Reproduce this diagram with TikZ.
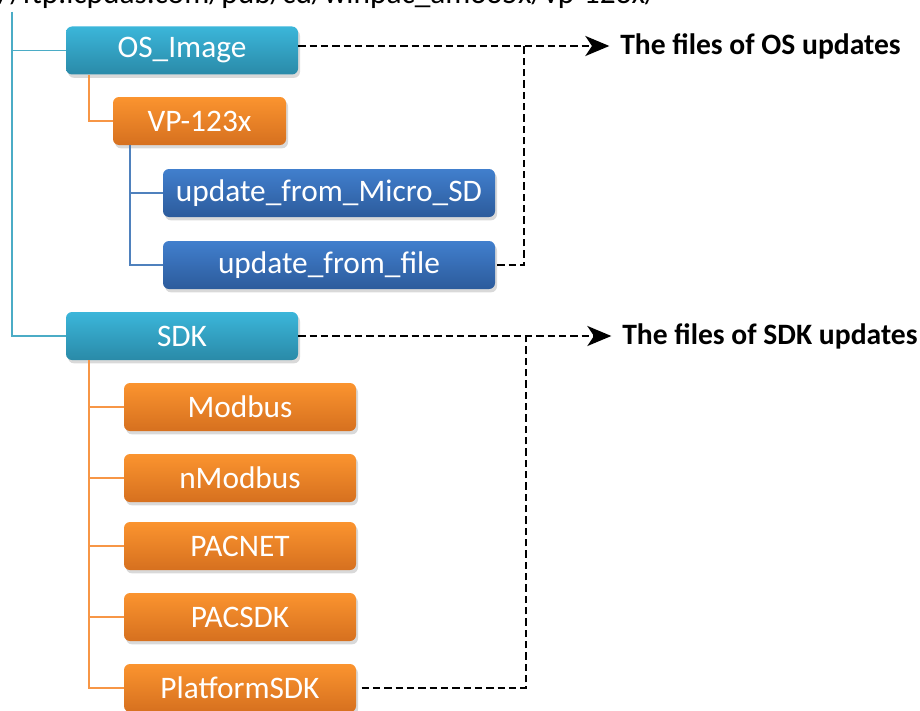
\documentclass[tikz,border=0pt]{standalone}
\usepackage{fontspec}
\setmainfont{Carlito}
\usetikzlibrary{arrows.meta,shadows,calc}
\definecolor{tealtop}{HTML}{3BB6DA}
\definecolor{tealbot}{HTML}{2A8AA8}
\definecolor{orangetop}{HTML}{FB942F}
\definecolor{orangebot}{HTML}{D6701F}
\definecolor{bluetop}{HTML}{417FCD}
\definecolor{bluebot}{HTML}{2C5B9C}
\definecolor{tealline}{HTML}{4BACC6}
\definecolor{orangeline}{HTML}{F79646}
\definecolor{blueline}{HTML}{4F81BD}

\begin{document}
\begin{tikzpicture}[x=0.75pt,y=-0.75pt,>={Stealth[length=18pt,width=15pt,inset=5pt]},
  box/.style={rounded corners=4.5pt,minimum height=36pt,inner sep=0pt,text=white,
    font=\fontsize{23.5}{26}\selectfont,
    drop shadow={shadow xshift=1.5pt,shadow yshift=-2.5pt,opacity=0.3}},
  tealbox/.style={box,top color=tealtop,bottom color=tealbot,minimum width=174pt},
  orangebox/.style={box,top color=orangetop,bottom color=orangebot,minimum width=174pt},
  bluebox/.style={box,top color=bluetop,bottom color=bluebot,minimum width=249pt},
  branch/.style={line width=1.3pt},
  dashline/.style={dash pattern=on 5.5pt off 3pt,line width=1.9pt},
  note/.style={anchor=west,inner sep=0pt,font=\bfseries\fontsize{22.2}{25}\selectfont}]
  \useasboundingbox (0,0) rectangle (920,710);
  % path on the server, cut by the top edge
  \node[anchor=base west,inner sep=0pt,font=\fontsize{23.5}{26}\selectfont] (ftppath) at (-46,4)
    {ftp://ftp.icpdas.com/pub/cd/winpac\_am335x/vp-123x/};
  \coordinate (trunk) at (12,12);
  % folders
  \node[tealbox] (osimg) at (182,50.5) {OS\_Image};
  \node[orangebox,minimum width=129.75pt] (vp) at (199.5,121) {VP-123x};
  \node[bluebox] (microsd) at (329,193) {update\_from\_Micro\_SD};
  \node[bluebox] (upfile) at (329,265) {update\_from\_file};
  \node[tealbox] (sdk) at (182,336) {SDK};
  \node[orangebox] (modbus) at (240,407) {Modbus};
  \node[orangebox] (nmodbus) at (240,478) {nModbus};
  \node[orangebox] (pacnet) at (240,546) {PACNET};
  \node[orangebox] (pacsdk) at (240,617) {PACSDK};
  \node[orangebox] (platsdk) at (240,688) {PlatformSDK};
  % notes
  \node[note] (osnote) at (620,46) {The files of OS updates};
  \node[note] (sdknote) at (622,336) {The files of SDK updates};
  \coordinate (osjoin) at (524,46);
  \coordinate (sdkjoin) at (526,336);
  % tree lines
  \draw[branch,tealline] (trunk) |- (osimg.west);
  \draw[branch,tealline] (trunk) |- (sdk.west);
  \draw[branch,orangeline] ($(osimg.south west)+(23,0)$) |- (vp.west);
  \draw[branch,blueline] ($(vp.south west)+(17,0)$) |- (microsd.west);
  \draw[branch,blueline] ($(vp.south west)+(17,0)$) |- (upfile.west);
  \foreach \sub in {modbus,nmodbus,pacnet,pacsdk,platsdk}
    \draw[branch,orangeline] ($(sdk.south west)+(23,0)$) |- (\sub.west);
  % dashed links
  \draw[dashline,->,shorten >=8pt] (osimg.east |- osjoin) -- (osnote.west);
  \draw[dashline] ([xshift=1.5pt]upfile.east) -| (osjoin);
  \draw[dashline,->,shorten >=8pt] (sdk.east) -- (sdknote.west);
  \draw[dashline] ([xshift=4pt]platsdk.east) -| (sdkjoin);
\end{tikzpicture}
\end{document}
